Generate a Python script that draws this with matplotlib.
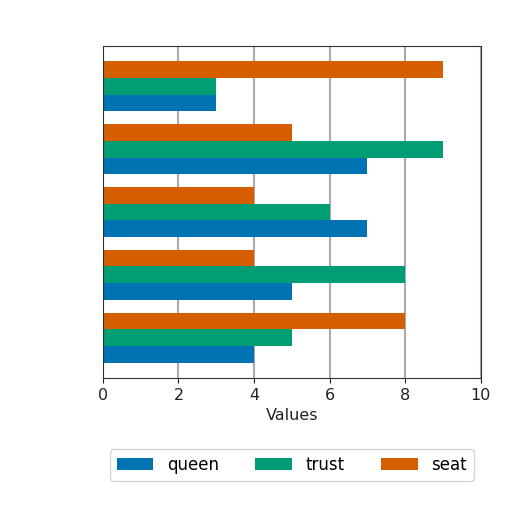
import matplotlib
matplotlib.use("Agg")
import matplotlib.pyplot as plt
import numpy as np

groups = ["g1", "g2", "g3", "g4", "g5"]
series = ["queen", "trust", "seat"]
queen = [4, 5, 7, 7, 3]
trust = [5, 8, 6, 9, 3]
seat = [8, 4, 4, 5, 9]
colors = ["#0173b2", "#029e73", "#d55e00"]

fig = plt.figure(figsize=(5.12, 5.12), dpi=100)
ax = fig.add_axes([0.201, 0.262, 0.738, 0.648])

y = np.arange(len(groups))
h = 0.8 / 3
for i, (name, vals) in enumerate(zip(series, [queen, trust, seat])):
    ax.barh(y + (i - 1) * h, vals, height=h, color=colors[i], label=name, zorder=2)

ax.set_xlim(0, 10)
ax.set_xticks([0, 2, 4, 6, 8, 10])
ax.set_yticks([])
ax.tick_params(axis="x", labelsize=11.5, colors="#222222")
ax.xaxis.grid(True, color="#aaaaaa", linewidth=1.5, zorder=0)
ax.set_axisbelow(True)
ax.set_xlabel("Values", fontsize=11.5, color="#222222")
for s in ax.spines.values():
    s.set_color("#333333")
ax.legend(loc="upper center", bbox_to_anchor=(0.5, -0.19), ncol=3, fontsize=12,
          frameon=True, fancybox=True, handlelength=2.2, columnspacing=2.2)

fig.savefig("out.png", dpi=100)
